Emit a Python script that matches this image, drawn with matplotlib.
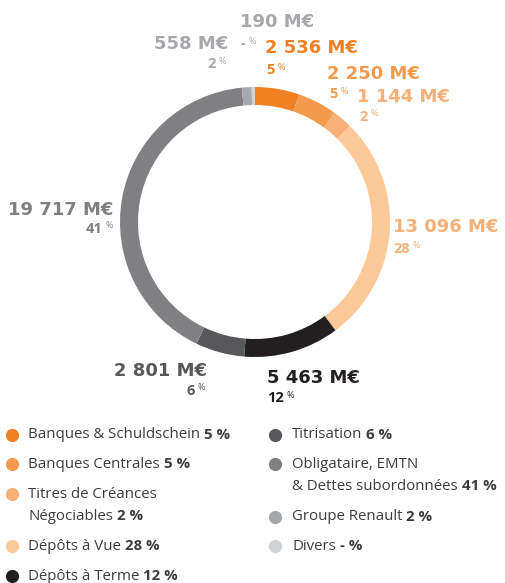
import matplotlib.pyplot as plt

# données (M€)
categories = ['Banques & Schuldschein', 'Banques Centrales', 'Titres de Créances\nNégociables',
              'Dépôts à Vue', 'Dépôts à Terme', 'Titrisation',
              'Obligataire, EMTN\n& Dettes subordonnées', 'Groupe Renault', 'Divers']
montants = [2536, 2250, 1144, 13096, 5463, 2801, 19717, 558, 190]
montant_labels = ['2 536 M€', '2 250 M€', '1 144 M€', '13 096 M€', '5 463 M€',
                  '2 801 M€', '19 717 M€', '558 M€', '190 M€']
pct_labels = ['5', '5', '2', '28', '12', '6', '41', '2', '-']
couleurs = ['#F08122', '#F49A4C', '#F8B079', '#FDC999', '#231F20',
            '#58585A', '#808083', '#A7A8AB', '#D1D2D4']
label_couleurs = ['#F08122', '#F49A4C', '#F8B079', '#F8B079', '#231F20',
                  '#58585A', '#808083', '#A7A8AB', '#A7A8AB']

plt.rcParams['font.family'] = ['Open Sans', 'DejaVu Sans']
GRAS = ['DejaVu Sans']

W, H = 505, 583
fig = plt.figure(figsize=(W / 100, H / 100), dpi=100)
ax = fig.add_axes([0, 0, 1, 1])

ax.pie(montants, colors=couleurs, startangle=90, counterclock=False,
       center=(255, H - 222), radius=135, frame=False,
       wedgeprops=dict(width=18, linewidth=0))
ax.set_xlim(0, W)
ax.set_ylim(0, H)
ax.set_aspect('auto')
ax.axis('off')
renderer = fig.canvas.get_renderer()

# position des étiquettes (x, y en pixels depuis le haut), alignement
pos = [(265, 48, 'left'), (327, 74, 'left'), (357, 97, 'left'), (393, 227, 'left'),
       (267, 378, 'left'), (207, 371, 'right'), (113, 210, 'right'),
       (228, 44, 'right'), (240, 22, 'left')]
pct_pos = [(266, 70, 'left'), (329, 94, 'left'), (359, 117, 'left'), (393, 249, 'left'),
           (267, 398, 'left'), (205, 391, 'right'), (113, 229, 'right'),
           (226, 64, 'right'), (241, 44, 'left')]

for i in range(len(montants)):
    x, y, ha = pos[i]
    ax.text(x, H - y, montant_labels[i], color=label_couleurs[i], fontsize=13,
            fontweight='bold', family=GRAS, ha=ha, va='center')
    x, y, ha = pct_pos[i]
    c = label_couleurs[i]
    if ha == 'left':
        t = ax.text(x, H - y, pct_labels[i], color=c, fontsize=10.5,
                    fontweight='bold', ha='left', va='center')
        bb = t.get_window_extent(renderer=renderer)
        ax.text(bb.x1 + 3, H - y + 3, '%', color=c, fontsize=6.5, ha='left', va='center')
    else:
        p = ax.text(x, H - y + 3, '%', color=c, fontsize=6.5, ha='right', va='center')
        bb = p.get_window_extent(renderer=renderer)
        ax.text(bb.x0 - 3, H - y, pct_labels[i], color=c, fontsize=10.5,
                fontweight='bold', ha='right', va='center')

# légende
legende = [
    (12, 28, 435, 'Banques & Schuldschein', '5 %', 0),
    (12, 28, 464, 'Banques Centrales', '5 %', 1),
    (12, 28, 494, 'Titres de Créances', None, 2),
    (None, 28, 516, 'Négociables', '2 %', 2),
    (12, 28, 546, 'Dépôts à Vue', '28 %', 3),
    (12, 28, 576, 'Dépôts à Terme', '12 %', 4),
    (275, 292, 435, 'Titrisation', '6 %', 5),
    (275, 292, 464, 'Obligataire, EMTN', None, 6),
    (None, 292, 486, '& Dettes subordonnées', '41 %', 6),
    (275, 292, 517, 'Groupe Renault', '2 %', 7),
    (275, 292, 546, 'Divers', '- %', 8),
]
for cx, tx, y, txt, val, k in legende:
    if cx is not None:
        ax.plot(cx, H - y, 'o', color=couleurs[k], markersize=9.5, markeredgewidth=0)
    t = ax.text(tx, H - y, txt, color='#3C3C3C', fontsize=10.8, ha='left', va='center')
    if val:
        bb = t.get_window_extent(renderer=renderer)
        ax.text(bb.x1 + 4, H - y, val, color='#3C3C3C', fontsize=10.8,
                fontweight='bold', ha='left', va='center')

fig.savefig('out.png', dpi=100)
